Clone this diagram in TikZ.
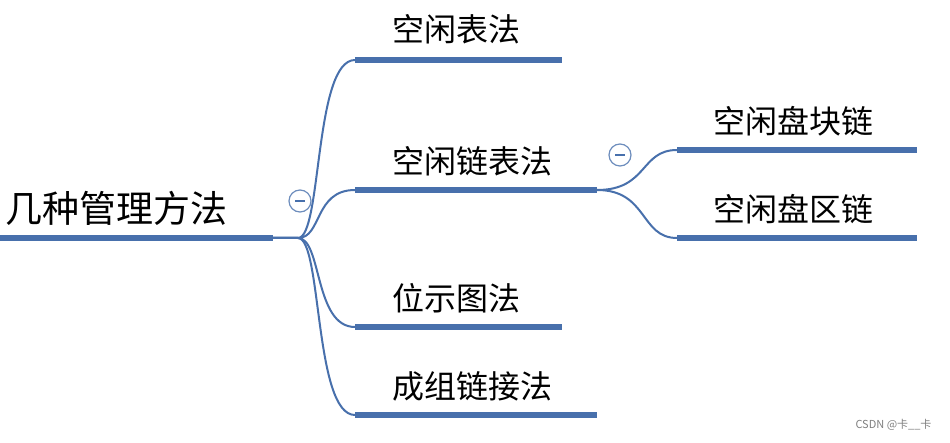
\documentclass[tikz,border=0pt]{standalone}
\usepackage{fontspec}
\setmainfont{Noto Sans CJK SC}
\begin{document}
\begin{tikzpicture}[x=1pt,y=-1pt,
  ul/.style={line width=6pt,color=lineblue},
  br/.style={line width=2pt,color=lineblue},
  lbl/.style={anchor=south west,inner sep=0pt,font=\fontsize{32}{34}\selectfont},
  coll/.style={circle,draw=lineblue!80,line width=1.2pt,fill=white,minimum size=22pt,inner sep=0pt}]
\definecolor{lineblue}{RGB}{72,112,172}
\useasboundingbox (0,0) rectangle (950,443);
\fill[white] (0,0) rectangle (950,443);
% root
\coordinate (r0) at (0,238); \coordinate (r1) at (273,238); \coordinate (r2) at (298,238);
\draw[ul] (r0) -- (r1);
\node[lbl,font=\fontsize{37}{39}\selectfont] (root) at (5,226) {几种管理方法};
% first level underlines
\foreach \n/\y/\xe in {a/60/562,b/190/597,c/327/562,d/415/597}{
  \coordinate (\n0) at (355,\y); \coordinate (\n1) at (\xe,\y);
  \draw[ul] (\n0) -- (\n1);
  \draw[br] (r1) -- (r2) .. controls (322,238) and (314,\y) .. (\n0);
}
\node[lbl] (ta) at (392,44) {空闲表法};
\node[lbl] (tb) at (392,176) {空闲链表法};
\node[lbl] (tc) at (392,313) {位示图法};
\node[lbl] (td) at (392,401) {成组链接法};
\node[coll] (c1) at (300,201) {};
\draw[lineblue,line width=1.6pt] ([xshift=-5pt]c1.center) -- ([xshift=5pt]c1.center);
% second level
\foreach \n/\y in {e/150,f/238}{
  \coordinate (\n0) at (677,\y); \coordinate (\n1) at (917,\y);
  \draw[ul] (\n0) -- (\n1);
  \draw[br] (b1) .. controls (648,190) and (640,\y) .. (\n0);
}
\node[lbl] (te) at (713,136) {空闲盘块链};
\node[lbl] (tf) at (713,224) {空闲盘区链};
\node[coll] (c2) at (620,155) {};
\draw[lineblue,line width=1.6pt] ([xshift=-5pt]c2.center) -- ([xshift=5pt]c2.center);
\node[anchor=east,font=\fontsize{11}{12}\selectfont,text=gray] (wm) at (935,425) {CSDN @卡\_\_卡};
\end{tikzpicture}
\end{document}
